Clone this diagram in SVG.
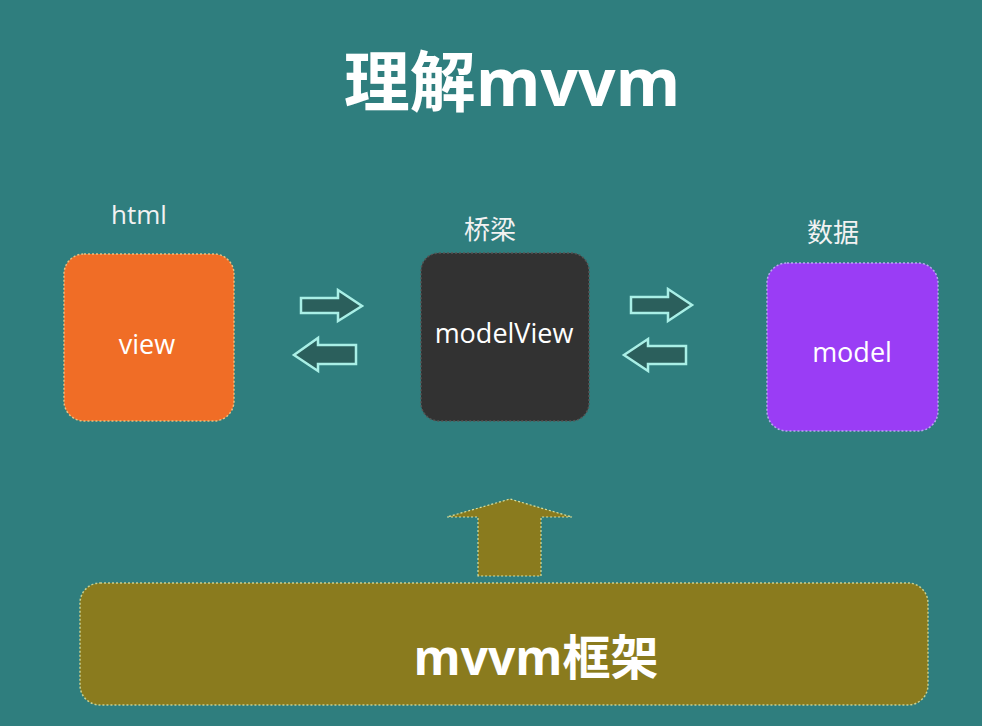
<svg xmlns="http://www.w3.org/2000/svg" width="982" height="726" viewBox="0 0 982 726">
<style>
.t{font-family:"Open Sans","Noto Sans CJK SC",sans-serif;fill:#ffffff}
.lab{font-size:26px;fill:#f2f2f2}
.in{font-size:27px;text-anchor:middle}
.box{stroke-width:1.5;stroke-dasharray:2 2}
.arr{fill:#2b5f5c;stroke:#a9efe6;stroke-width:2.5;stroke-linejoin:miter}
</style>
<rect width="982" height="726" fill="#2f7e7e"/>
<text class="t" x="512" y="106" font-size="66" font-weight="bold" text-anchor="middle">理解mvvm</text>
<g id="view">
<text class="t lab" x="139" y="224" text-anchor="middle">html</text>
<rect class="box" x="64" y="254" width="170" height="167" rx="20" fill="#f06d26" stroke="#e8c080"/>
<text class="t in" x="147" y="354">view</text>
</g>
<g id="modelView">
<text class="t lab" x="490" y="239" text-anchor="middle">桥梁</text>
<rect class="box" x="421" y="253" width="168" height="168" rx="18" fill="#323232" stroke="#555"/>
<text class="t in" x="504" y="343">modelView</text>
</g>
<g id="model">
<text class="t lab" x="833" y="242" text-anchor="middle">数据</text>
<rect class="box" x="767" y="263" width="171" height="168" rx="20" fill="#9a3df5" stroke="#b8a8f0"/>
<text class="t in" x="852" y="362">model</text>
</g>
<g id="connectors">
<path class="arr" d="M301,298 H338 V290 L362,306 L338,321 V313 H301 Z"/>
<path class="arr" d="M356,345 H318 V338 L294,355 L318,371 V364 H356 Z"/>
<path class="arr" d="M631,297 H668 V289 L692,305 L668,321 V313 H631 Z"/>
<path class="arr" d="M686,346 H648 V339 L624,355 L648,371 V364 H686 Z"/>
<path d="M478,576 V517 H447 L510,499 L572,517 H541 V576 Z" fill="#8a7b1e" stroke="#d8e0a0" stroke-width="1.2" stroke-dasharray="2 2"/>
</g>
<g id="framework">
<rect x="80" y="583" width="848" height="122" rx="20" fill="#8a7b1e" stroke="#c8d090" stroke-width="1.5" stroke-dasharray="2 2"/>
<text class="t" x="536" y="675" font-size="48" font-weight="bold" text-anchor="middle">mvvm框架</text>
</g>
</svg>
